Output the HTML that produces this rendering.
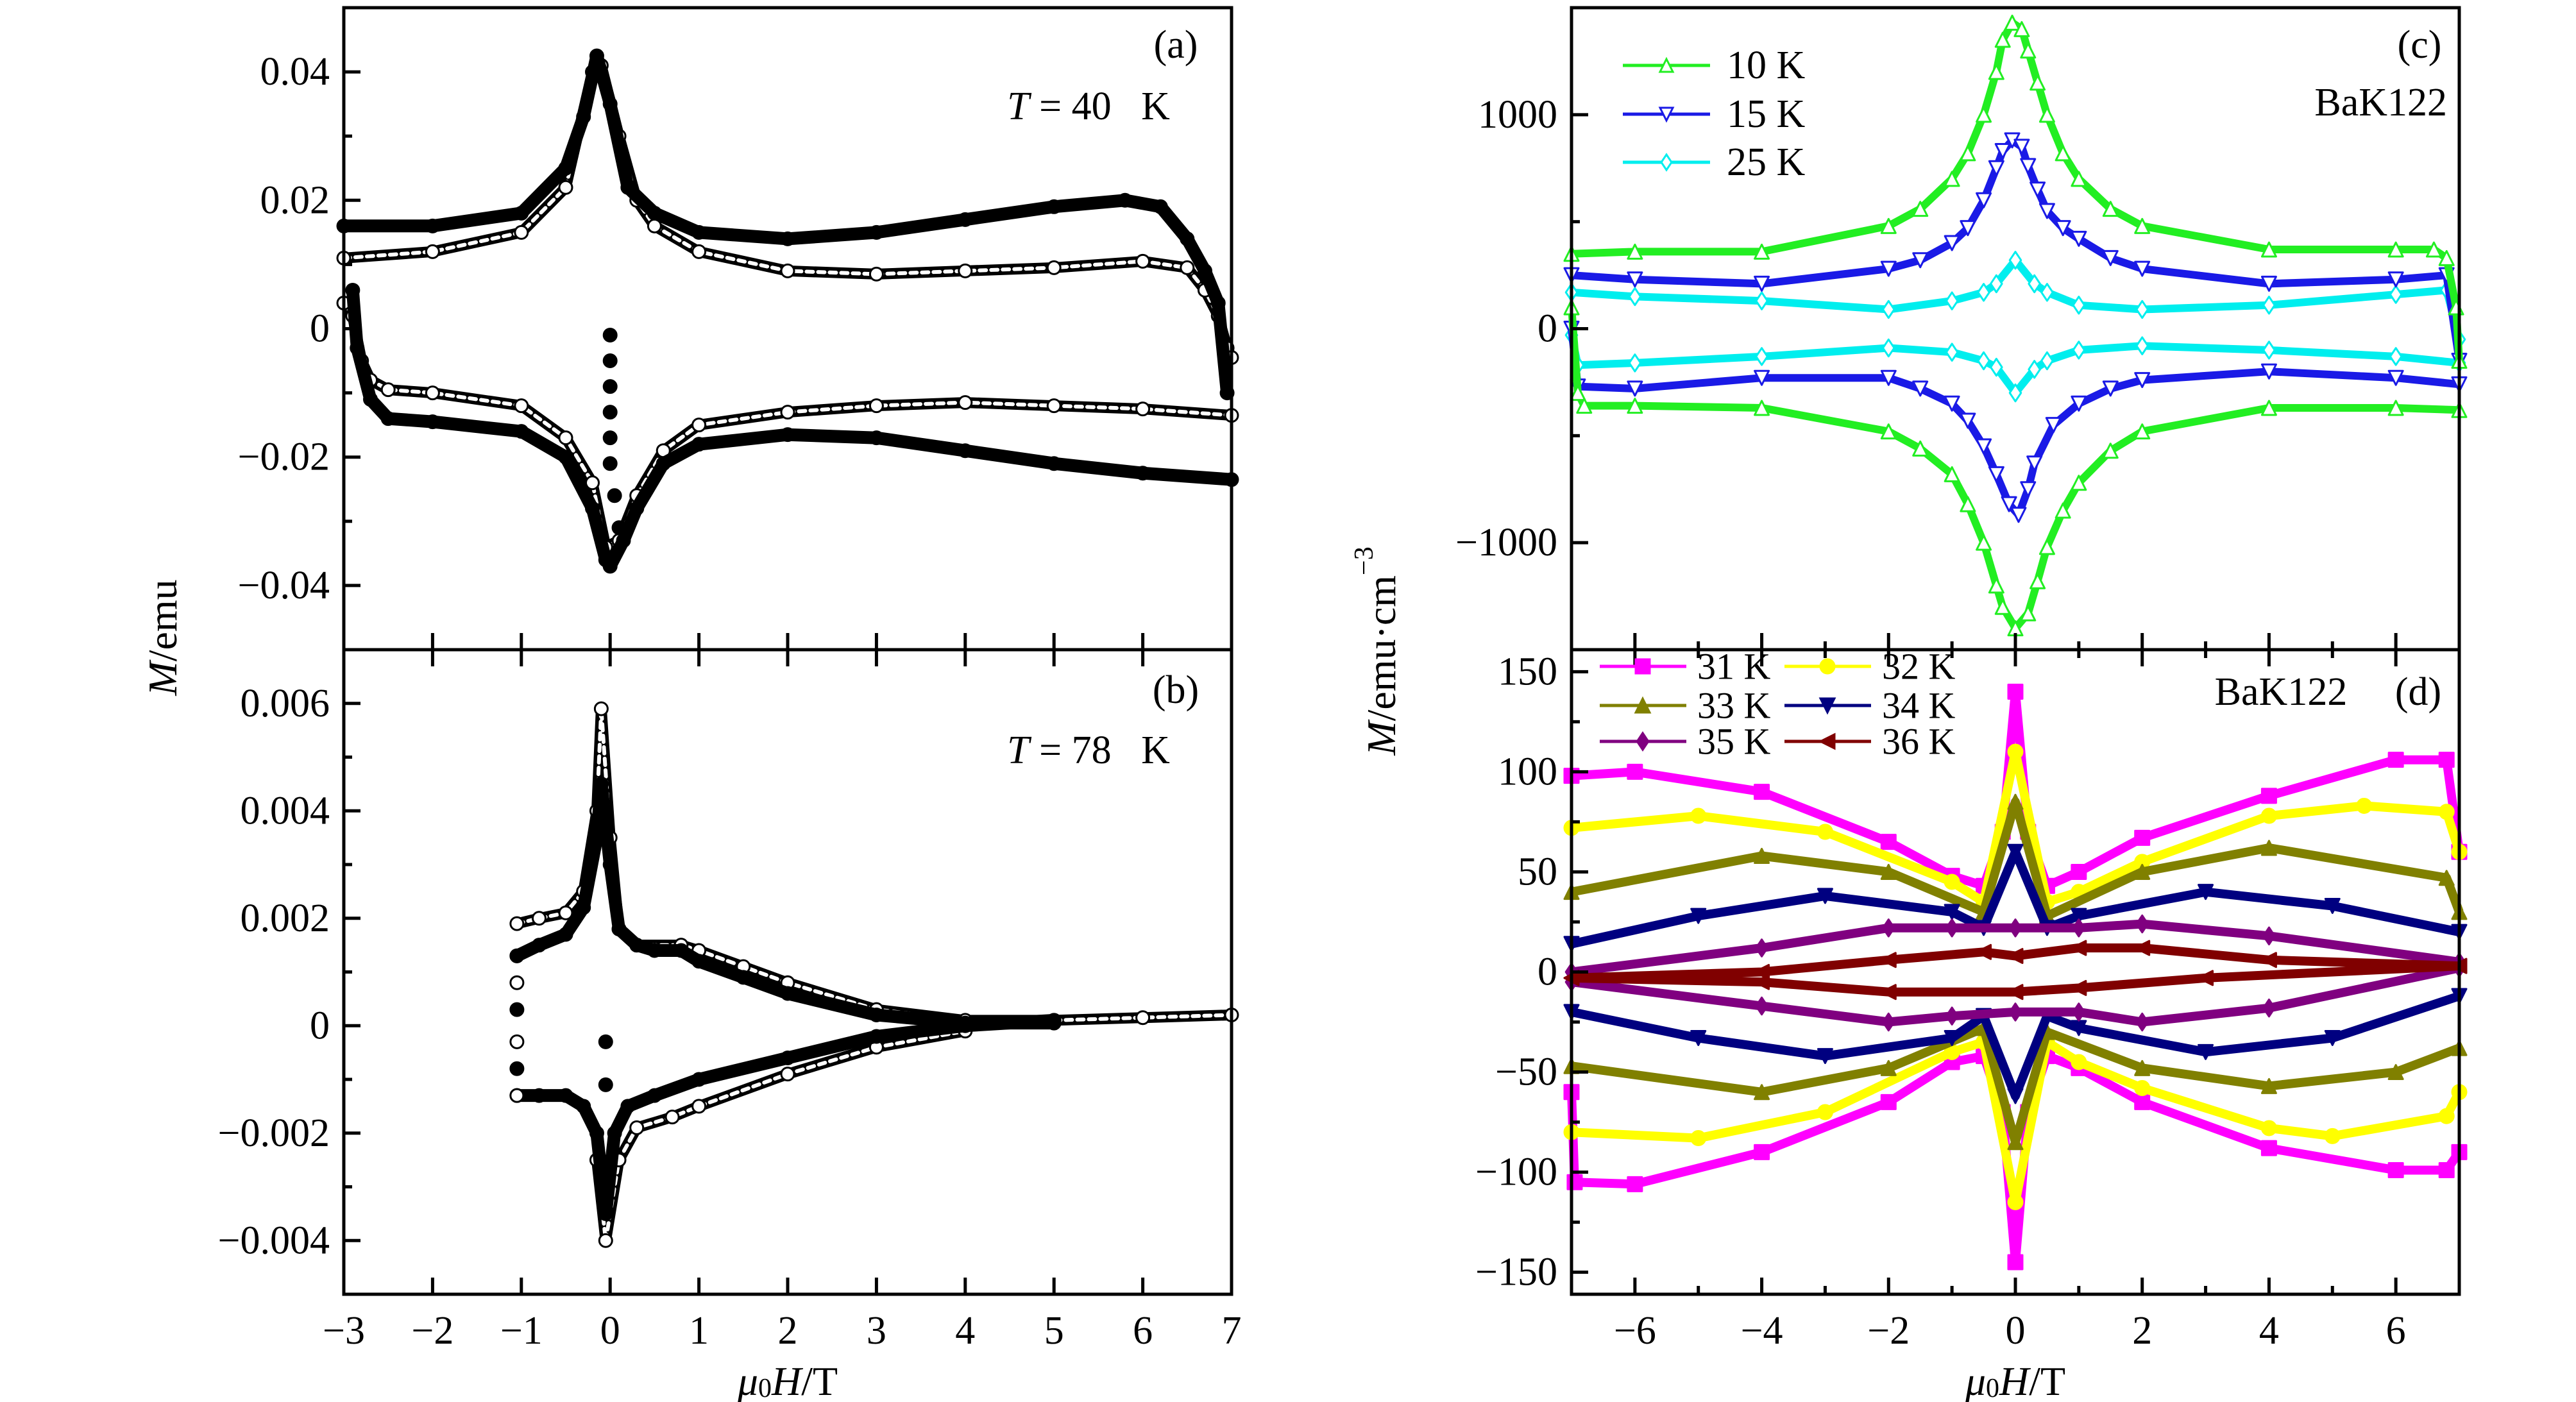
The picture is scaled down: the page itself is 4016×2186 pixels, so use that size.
<!DOCTYPE html>
<html><head><meta charset="utf-8">
<style>
html,body{margin:0;padding:0;background:#fff;}
svg{display:block;font-family:"Liberation Serif",serif;}
</style></head>
<body>
<svg id="fig" width="4016" height="2186" viewBox="0 0 4016 2186" xmlns="http://www.w3.org/2000/svg">
<rect x="0" y="0" width="4016" height="2186" fill="#fff"/>
</svg>
<script>
// ---------- data ----------
// Panel (a) T = 40 K
const aUpFilledX=[-3,-2,-1,-0.5,-0.3,-0.15,0,0.2,0.5,1,2,3,4,5,5.8,6.2,6.5,6.7,6.85,6.95];
const aUpFilledY=[0.016,0.016,0.018,0.025,0.033,0.0425,0.035,0.022,0.018,0.015,0.014,0.015,0.017,0.019,0.020,0.019,0.014,0.009,0.004,-0.01];
const aUpOpenX=[-3,-2,-1,-0.5,-0.2,-0.1,0.1,0.3,0.5,1,2,3,4,5,6,6.5,6.7,6.85,6.95,7];
const aUpOpenY=[0.011,0.012,0.015,0.022,0.040,0.041,0.030,0.020,0.016,0.012,0.009,0.0085,0.009,0.0095,0.0105,0.0095,0.006,0.002,-0.003,-0.0045];
const aLoFilledX=[-2.9,-2.85,-2.7,-2.5,-2,-1,-0.5,-0.2,-0.05,0,0.15,0.3,0.6,1,2,3,4,5,6,7];
const aLoFilledY=[0.006,-0.003,-0.011,-0.014,-0.0145,-0.016,-0.020,-0.028,-0.036,-0.037,-0.033,-0.028,-0.021,-0.018,-0.0165,-0.017,-0.019,-0.021,-0.0225,-0.0235];
const aLoOpenX=[-3,-2.9,-2.8,-2.7,-2.5,-2,-1,-0.5,-0.2,-0.05,0.1,0.3,0.6,1,2,3,4,5,6,7];
const aLoOpenY=[0.004,0.002,-0.005,-0.008,-0.0095,-0.010,-0.012,-0.017,-0.024,-0.034,-0.033,-0.026,-0.019,-0.015,-0.013,-0.012,-0.0115,-0.012,-0.0125,-0.0135];
const aVertX=[0,0,0,0,0,0,0.05,0.1];
const aVertY=[-0.001,-0.005,-0.009,-0.013,-0.017,-0.021,-0.026,-0.031];
// Panel (b) T = 78 K
const bUpFilledX=[-1.05,-0.8,-0.5,-0.3,-0.15,-0.1,0,0.1,0.3,0.5,0.8,1,1.5,2,3,4,5];
const bUpFilledY=[0.0013,0.0015,0.0017,0.0022,0.0035,0.0045,0.003,0.0018,0.0015,0.0014,0.0014,0.0012,0.0009,0.0006,0.0002,0.00005,0.00005];
const bUpOpenX=[-1.05,-0.8,-0.5,-0.3,-0.15,-0.1,0,0.1,0.3,0.8,1,1.5,2,3,4,5,6,7];
const bUpOpenY=[0.0019,0.002,0.0021,0.0025,0.004,0.0059,0.0035,0.0018,0.0015,0.0015,0.0014,0.0011,0.0008,0.0003,0.0001,0.0001,0.00015,0.0002];
const bLeftX=[-1.05,-1.05,-1.05,-1.05,-1.05,-1.05];
const bLeftY=[0.0013,0.0008,0.0003,-0.0003,-0.0008,-0.0013];
const bLoFilledX=[-1.05,-0.8,-0.5,-0.3,-0.15,-0.05,0.05,0.2,0.5,1,2,3,4,5];
const bLoFilledY=[-0.0013,-0.0013,-0.0013,-0.0015,-0.002,-0.0035,-0.002,-0.0015,-0.0013,-0.001,-0.0006,-0.0002,0,0.0001];
const bLoOpenX=[-0.15,-0.05,0.1,0.3,0.7,1,2,3,4];
const bLoOpenY=[-0.0025,-0.004,-0.0025,-0.0019,-0.0017,-0.0015,-0.0009,-0.0004,-0.0001];
const bDotX=[-0.05,-0.05];
const bDotY=[-0.0003,-0.0011];
// Panel (c)
const cLabels=["10 K","15 K","25 K"];
const cUpX=[[-7,-6,-4,-2,-1.5,-1,-0.75,-0.5,-0.3,-0.2,-0.05,0.1,0.2,0.35,0.5,0.75,1,1.5,2,4,6,6.6,6.8,6.95,7],
            [-7,-6,-4,-2,-1.5,-1,-0.75,-0.5,-0.3,-0.2,-0.05,0.1,0.2,0.35,0.5,0.75,1,1.5,2,4,6,6.8,7],
            [-7,-6,-4,-2,-1,-0.5,-0.3,0,0.3,0.5,1,2,4,6,6.8,7]];
const cUpY=[[350,360,360,480,560,700,820,1000,1200,1350,1430,1400,1300,1150,1000,820,700,560,480,370,370,370,330,100,-150],
            [250,230,210,280,320,400,470,600,750,830,880,850,760,650,550,470,420,330,280,210,230,250,-150],
            [170,150,130,90,130,170,210,320,210,170,110,90,110,160,180,-50]];
const cLoX=[[-7,-6.9,-6.8,-6,-4,-2,-1.5,-1,-0.75,-0.5,-0.3,-0.2,0,0.2,0.35,0.5,0.75,1,1.5,2,4,6,7],
            [-7,-6.9,-6,-4,-2,-1.5,-1,-0.75,-0.5,-0.3,-0.1,0.05,0.2,0.3,0.6,1,1.5,2,4,6,7],
            [-7,-6.9,-6,-4,-2,-1,-0.5,-0.3,0,0.3,0.5,1,2,4,6,7]];
const cLoY=[[100,-300,-360,-360,-370,-480,-560,-680,-820,-1000,-1200,-1300,-1400,-1330,-1180,-1020,-850,-720,-570,-480,-370,-370,-380],
            [0,-270,-280,-230,-230,-280,-350,-430,-550,-680,-820,-870,-750,-630,-450,-350,-280,-240,-200,-230,-260],
            [-30,-170,-160,-130,-90,-110,-150,-180,-300,-190,-150,-100,-80,-100,-130,-160]];
// Panel (d)
const dLabels=["31 K","32 K","33 K","34 K","35 K","36 K"];
const dUpX=[[-7,-6,-4,-2,-1,-0.5,-0.2,0,0.2,0.5,1,2,4,6,6.8,7],
            [-7,-5,-3,-1,-0.5,0,0.5,1,2,4,5.5,6.8,7],
            [-7,-4,-2,-0.5,0,0.5,2,4,6.8,7],
            [-7,-5,-3,-1,-0.5,0,0.5,1,3,5,7],
            [-7,-4,-2,-1,0,1,2,4,7],
            [-7,-4,-2,-0.5,0,1,2,4,7]];
const dUpY=[[98,100,90,65,48,43,70,140,70,43,50,67,88,106,106,60],
            [72,78,70,45,35,110,35,40,55,78,83,80,60],
            [40,58,50,30,85,28,50,62,47,30],
            [14,28,38,30,22,60,22,28,40,33,20],
            [0,12,22,22,22,22,24,18,5],
            [-3,0,6,10,8,12,12,6,3]];
const dLoX=[[-7,-6.95,-6,-4,-2,-1,-0.5,-0.2,0,0.2,0.5,1,2,4,6,6.8,7],
            [-7,-5,-3,-1,-0.5,0,0.5,1,2,4,5,6.8,7],
            [-7,-4,-2,-0.5,0,0.5,2,4,6,7],
            [-7,-5,-3,-1,-0.5,0,0.5,1,3,5,7],
            [-7,-4,-2,-1,0,1,2,4,7],
            [-7,-4,-2,0,1,3,7]];
const dLoY=[[-60,-105,-106,-90,-65,-45,-42,-70,-145,-70,-42,-48,-65,-88,-99,-99,-90],
            [-80,-83,-70,-40,-35,-115,-35,-45,-58,-78,-82,-72,-60],
            [-47,-60,-48,-28,-85,-30,-48,-57,-50,-38],
            [-20,-33,-42,-33,-22,-62,-22,-28,-40,-33,-12],
            [-5,-17,-25,-22,-20,-20,-25,-18,2],
            [-3,-5,-10,-10,-8,-3,3]];
// tick labels
const leftXTicks=[-3,-2,-1,0,1,2,3,4,5,6,7];
const aYTicks=[0.04,0.02,0,-0.02,-0.04];
const bYTicks=[0.006,0.004,0.002,0,-0.002,-0.004];
const rightXTicks=[-6,-4,-2,0,2,4,6];
const cYTicks=[1000,0,-1000];
const dYTicks=[150,100,50,0,-50,-100,-150];

// ---------- helpers ----------
const NS="http://www.w3.org/2000/svg";
const svg=document.getElementById('fig');
const FS=62;
function mk(tag,attrs,parent){const e=document.createElementNS(NS,tag);for(const k in attrs)e.setAttribute(k,attrs[k]);(parent||svg).appendChild(e);return e;}
function lin(d0,d1,r0,r1){return v=>r0+(v-d0)/(d1-d0)*(r1-r0);}
function fmt(v){return (v<0?"\u2212":"")+Math.abs(v).toString();}
function fmtL(v){if(v===0)return "0";let s=Math.abs(v).toFixed(Math.abs(v)<0.01?3:2);return (v<0?"\u2212":"")+s;}

const L0=536,L1=1920,R0=2450,R1=3834,T0=12,MID=1013,B0=2018;
const xA=lin(-3,7,L0,L1), yA=lin(-0.05,0.05,MID,T0), yB=lin(-0.005,0.007,B0,MID);
const xC=lin(-7,7,R0,R1), yC=lin(-1500,1500,MID,T0), yD=lin(-161,161,B0,MID);

function path(xs,ys,fx,fy){return xs.map((x,i)=>(i?'L':'M')+fx(x).toFixed(1)+','+fy(ys[i]).toFixed(1)).join('');}

function marker(g,type,cx,cy,s,color,filled){
  let e;const h=s/2;
  const fill=filled?color:'#fff';
  if(type==='sq'){e=mk('rect',{x:cx-h,y:cy-h,width:s,height:s,fill:fill,stroke:color,'stroke-width':3},g);}
  else if(type==='ci'){e=mk('circle',{cx:cx,cy:cy,r:h,fill:fill,stroke:color,'stroke-width':3},g);}
  else{
    let pts;
    if(type==='tu')pts=[[cx,cy-h],[cx+h,cy+h],[cx-h,cy+h]];
    else if(type==='td')pts=[[cx,cy+h],[cx+h,cy-h],[cx-h,cy-h]];
    else if(type==='di')pts=[[cx,cy-h*1.2],[cx+h*0.8,cy],[cx,cy+h*1.2],[cx-h*0.8,cy]];
    else pts=[[cx-h,cy],[cx+h,cy-h],[cx+h,cy+h]];
    e=mk('polygon',{points:pts.map(p=>p.join(',')).join(' '),fill:fill,stroke:color,'stroke-width':3},g);
  }
  
  
}

function text(str,x,y,size,anchor,name,extra){
  const t=mk('text',Object.assign({x:x,y:y,'font-size':size,'text-anchor':anchor||'middle','dominant-baseline':'central',fill:'#000'},extra||{}));
  
  
  t.textContent=str;return t;
}

// ---------- ticks & frames ----------
function frame(x0,y0,x1,y1,name){
  const r=mk('rect',{x:x0,y:y0,width:x1-x0,height:y1-y0,fill:'none',stroke:'#000','stroke-width':5});
  
  
}
function xticks(vals,fx,yBot,yTop,major,minorStep){
  const g=mk('g',{stroke:'#000','stroke-width':5});
  
  
  const lo=vals[0]-(minorStep||0), hi=vals[vals.length-1]+(minorStep||0);
  vals.forEach(v=>{const x=fx(v);
    mk('line',{x1:x,y1:yBot,x2:x,y2:yBot-major},g);
    if(yTop!==null) mk('line',{x1:x,y1:yTop,x2:x,y2:yTop+major},g);});
  if(minorStep){for(let v=lo;v<=hi+1e-9;v+=minorStep){if(vals.some(t=>Math.abs(t-v)<1e-9))continue;const x=fx(v);
    mk('line',{x1:x,y1:yBot,x2:x,y2:yBot-major/2},g);
    if(yTop!==null) mk('line',{x1:x,y1:yTop,x2:x,y2:yTop+major/2},g);}}
}
function yticks(vals,fy,xl,major,minorStep,lo,hi,labelFn,name){
  const g=mk('g',{stroke:'#000','stroke-width':5});
  
  
  vals.forEach(v=>{const y=fy(v);mk('line',{x1:xl,y1:y,x2:xl+major,y2:y},g);
    text(labelFn(v),xl-22,y,FS,'end',name+'-label');});
  for(let v=lo;v<=hi+1e-12;v+=minorStep){if(vals.some(t=>Math.abs(t-v)<minorStep*1e-3))continue;const y=fy(v);
    mk('line',{x1:xl,y1:y,x2:xl+major/2,y2:y},g);}
}

// ---------- left panels ----------
function band(xs,ys,fx,fy,open,name){
  const g=mk('g',{fill:'none','stroke-linejoin':'round','stroke-linecap':'round'});
  
  
  const d=path(xs,ys,fx,fy);
  const p1=mk('path',{d:d,stroke:'#000','stroke-width':open?17:20},g);
  
  
  if(open){const p2=mk('path',{d:d,stroke:'#fff','stroke-width':6,'stroke-dasharray':'10 8'},g);
    
    }
  xs.forEach((x,i)=>marker(g,'ci',fx(x),fy(ys[i]),20,'#000',!open));
}
band(aUpOpenX,aUpOpenY,xA,yA,true,'a-upper-open');
band(aUpFilledX,aUpFilledY,xA,yA,false,'a-upper-filled');
band(aLoOpenX,aLoOpenY,xA,yA,true,'a-lower-open');
band(aLoFilledX,aLoFilledY,xA,yA,false,'a-lower-filled');
(function(){const g=mk('g',{});
  aVertX.forEach((x,i)=>marker(g,'ci',xA(x),yA(aVertY[i]),20,'#000',true));})();

band(bUpOpenX,bUpOpenY,xA,yB,true,'b-upper-open');
band(bUpFilledX,bUpFilledY,xA,yB,false,'b-upper-filled');
band(bLoOpenX,bLoOpenY,xA,yB,true,'b-lower-open');
band(bLoFilledX,bLoFilledY,xA,yB,false,'b-lower-filled');
(function(){const g=mk('g',{});
  bLeftX.forEach((x,i)=>marker(g,'ci',xA(x),yB(bLeftY[i]),20,'#000',i%2===0));
  bDotX.forEach((x,i)=>marker(g,'ci',xA(x),yB(bDotY[i]),20,'#000',true));})();

// ---------- panel c ----------
const cColors=['#22ee22','#1a1ae6','#00eeee'];
const cMarks=['tu','td','di'];
[2,1,0].forEach(k=>{
  const g=mk('g',{fill:'none','stroke-linejoin':'round'});
  
  
  [[cUpX[k],cUpY[k]],[cLoX[k],cLoY[k]]].forEach(([xs,ys])=>{
    const p=mk('path',{d:path(xs,ys,xC,yC),stroke:cColors[k],'stroke-width':12},g);
    
    
    xs.forEach((x,i)=>marker(g,cMarks[k],xC(x),yC(ys[i]),22,cColors[k],false));
  });
});
// panel d
const dColors=['#ff00ff','#ffff00','#808000','#000080','#800080','#800000'];
const dMarks=['sq','ci','tu','td','di','tl'];
[0,1,2,3,4,5].forEach(k=>{
  const g=mk('g',{fill:'none','stroke-linejoin':'round'});
  
  
  [[dUpX[k],dUpY[k]],[dLoX[k],dLoY[k]]].forEach(([xs,ys])=>{
    const p=mk('path',{d:path(xs,ys,xC,yD),stroke:dColors[k],'stroke-width':14},g);
    
    
    xs.forEach((x,i)=>marker(g,dMarks[k],xC(x),yD(ys[i]),22,dColors[k],true));
  });
});

// ---------- frames, ticks ----------
frame(L0,T0,L1,MID,'panel-a-frame');
frame(L0,MID,L1,B0,'panel-b-frame');
frame(R0,T0,R1,MID,'panel-c-frame');
frame(R0,MID,R1,B0,'panel-d-frame');
xticks(leftXTicks,xA,B0,MID,26,0);
xticks(leftXTicks,xA,MID,null,26,0);
xticks(rightXTicks,xC,B0,MID,26,1);
xticks(rightXTicks,xC,MID,null,26,1);
yticks(aYTicks,yA,L0,26,0.01,-0.05,0.05,fmtL,'a-y-tick');
yticks(bYTicks,yB,L0,26,0.001,-0.005,0.007,fmtL,'b-y-tick');
yticks(cYTicks,yC,R0,26,500,-1500,1500,v=>fmt(v),'c-y-tick');
yticks(dYTicks,yD,R0,26,25,-150,160,v=>fmt(v),'d-y-tick');
leftXTicks.forEach(v=>text(fmt(v),xA(v),2075,FS,'middle','x-tick-label'));
rightXTicks.forEach(v=>text(fmt(v),xC(v),2075,FS,'middle','x-tick-label'));

// ---------- labels ----------
function axisTitle(parts,x,y,rot,name){
  const t=mk('text',{x:x,y:y,'font-size':64,'text-anchor':'middle','dominant-baseline':'central',transform:rot?`rotate(-90 ${x} ${y})`:''});
  
  
  parts.forEach(p=>{const s=mk('tspan',p.a||{},t);s.textContent=p.t;});
}
axisTitle([{t:'M',a:{'font-style':'italic'}},{t:'/emu'}],253,994,true,'y-axis-title-left');
axisTitle([{t:'M',a:{'font-style':'italic'}},{t:'/emu\u00B7cm'},{t:'\u22123',a:{'font-size':42,dy:-26}}],2153,1015,true,'y-axis-title-right');
axisTitle([{t:'\u03BC',a:{'font-style':'italic'}},{t:'0',a:{'font-size':42,dy:12}},{t:'H',a:{'font-style':'italic',dy:-12}},{t:'/T'}],1228,2153,false,'x-axis-title-left');
axisTitle([{t:'\u03BC',a:{'font-style':'italic'}},{t:'0',a:{'font-size':42,dy:12}},{t:'H',a:{'font-style':'italic',dy:-12}},{t:'/T'}],3142,2153,false,'x-axis-title-right');

text('(a)',1833,70,FS,'middle','panel-label-a');
text('(b)',1833,1076,FS,'middle','panel-label-b');
text('(c)',3772,70,FS,'middle','panel-label-c');
text('(d)',3770,1079,FS,'middle','panel-label-d');
text('BaK122',3815,160,FS,'end','sample-label-c');
text('BaK122',3556,1079,FS,'middle','sample-label-d');
function tLabel(str,x,y,name){
  const t=mk('text',{x:x,y:y,'font-size':FS,'text-anchor':'middle','dominant-baseline':'central'});
  
  
  const a=mk('tspan',{'font-style':'italic'},t);a.textContent='T';
  const b=mk('tspan',{},t);b.textContent=' = '+str+'\u2002 K';
}
tLabel('40',1697,166,'temperature-label-a');
tLabel('78',1697,1170,'temperature-label-b');

// legends
const cLegY=[102,178,253];
cLabels.forEach((lab,k)=>{
  const g=mk('g',{});
  
  
  mk('line',{x1:2530,y1:cLegY[k],x2:2666,y2:cLegY[k],stroke:cColors[k],'stroke-width':5},g);
  marker(g,cMarks[k],2598,cLegY[k],20,cColors[k],false);
  const t=text(lab,2692,cLegY[k],FS,'start','legend-label');g.appendChild(t);
});
const dLegY=[1039,1100,1156];
dLabels.forEach((lab,k)=>{
  const col=k%2,row=Math.floor(k/2);
  const x0=col?2782:2494;
  const g=mk('g',{});
  
  
  mk('line',{x1:x0,y1:dLegY[row],x2:x0+135,y2:dLegY[row],stroke:dColors[k],'stroke-width':5},g);
  marker(g,dMarks[k],x0+67,dLegY[row],22,dColors[k],true);
  const t=text(lab,x0+152,dLegY[row],58,'start','legend-label');g.appendChild(t);
});
</script>
</body></html>
